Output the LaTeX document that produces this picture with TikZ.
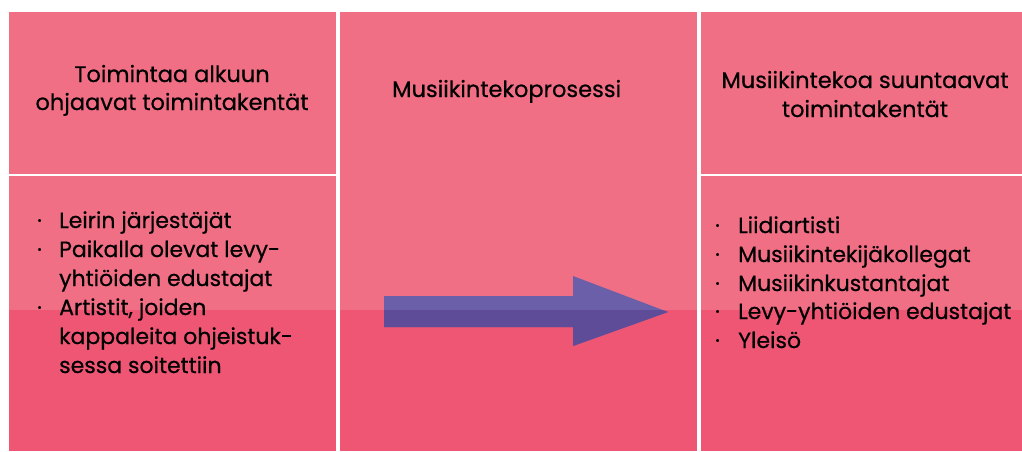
\documentclass[tikz,border=0pt]{standalone}
\usepackage{fontspec}
\setmainfont{Poppins}[FakeBold=0.5]
\definecolor{pinkTop}{RGB}{240,111,133}
\definecolor{pinkLow}{RGB}{238,86,116}
\definecolor{arrowTop}{RGB}{106,95,168}
\definecolor{arrowLow}{RGB}{95,76,153}
\tikzset{
  line/.style={anchor=base west, inner sep=0pt, font=\fontsize{22}{26}\selectfont},
  head/.style={anchor=base, inner sep=0pt, font=\fontsize{22.5}{26}\selectfont},
}
\begin{document}
\begin{tikzpicture}[x=1pt,y=-1pt]
\useasboundingbox (0,0) rectangle (1022,451);
\fill[white] (0,0) rectangle (1022,451);
% three columns
\fill[pinkTop] (9,12) rectangle (336,451);
\fill[pinkTop] (340,12) rectangle (697,451);
\fill[pinkTop] (701,12) rectangle (1022,451);
% darker lower band
\fill[pinkLow] (9,310) rectangle (336,451);
\fill[pinkLow] (340,310) rectangle (697,451);
\fill[pinkLow] (701,310) rectangle (1022,451);
% separators under the headers
\fill[white] (9,174) rectangle (336,176);
\fill[white] (701,174) rectangle (1022,176);
% process arrow
\def\arrowpath{(384,296) -- (573,296) -- (573,276) -- (668,312) -- (573,346) -- (573,327) -- (384,327) -- cycle}
\fill[arrowTop] \arrowpath;
\begin{scope}
\clip (340,310) rectangle (697,451);
\fill[arrowLow] \arrowpath;
\end{scope}
% headers
\node[head] (h1a) at (172,82) {Toimintaa alkuun};
\node[head] (h1b) at (172,110) {ohjaavat toimintakentät};
\node[head, anchor=base west] (h2) at (392,97) {Musiikintekoprosessi};
\node[head] (h3a) at (865,88) {Musiikintekoa suuntaavat};
\node[head] (h3b) at (865,117) {toimintakentät};
% left list
\foreach \y/\b/\t [count=\i] in {228/·/Leirin järjestäjät, 257/·/Paikalla olevat levy-, 286/{}/yhtiöiden edustajat, 315/·/{Artistit, joiden}, 344/{}/kappaleita ohjeistuk-, 373/{}/sessa soitettiin}{
  \node[line] (lb\i) at (37,\y) {\b};
  \node[line] (lt\i) at (59,\y) {\t};
}
% right list
\foreach \y/\t [count=\i] in {233/Liidiartisti, 262/Musiikintekijäkollegat, 291/Musiikinkustantajat, 319/Levy-yhtiöiden edustajat, 348/Yleisö}{
  \node[line] (rb\i) at (715,\y) {·};
  \node[line] (rt\i) at (738,\y) {\t};
}
\end{tikzpicture}
\end{document}
